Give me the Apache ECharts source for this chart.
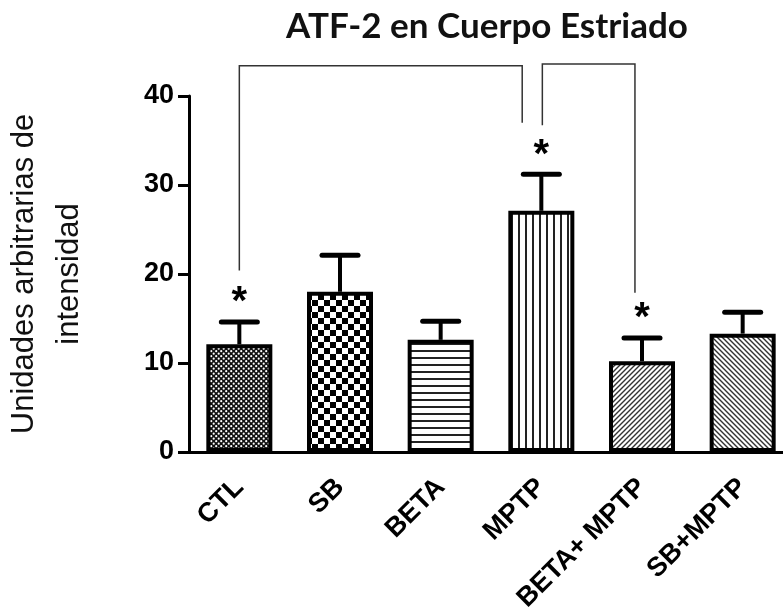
<!DOCTYPE html>
<html>
<head>
<meta charset="utf-8">
<script src="https://cdn.jsdelivr.net/npm/echarts@6/dist/echarts.min.js"></script>
<style>
  html, body { margin: 0; padding: 0; background: #fff; }
  #main { width: 783px; height: 607px; }
</style>
</head>
<body>
<div id="main"></div>
<script>
(function (window, echarts) {
    "use strict";

    // 数据
    var categories = ['CTL', 'SB', 'BETA', 'MPTP', 'BETA+ MPTP', 'SB+MPTP'];
    var means = [12.1, 18.0, 12.6, 27.1, 10.2, 13.3];
    var sems = [2.5, 4.1, 2.1, 4.1, 2.6, 2.4];
    var stars = ['*', '', '', '*', '*', ''];
    var yTicks = [0, 10, 20, 30, 40];
    // 比较括号: [左位置, 右位置, 顶部值, 左底值, 右底值]
    var brackets = [
        [0.0, 2.81, 43.4, 20.4, 37.0],
        [3.01, 3.93, 43.6, 36.7, 17.9]
    ];

    var tile = function (w, h, draw) {
        var c = document.createElement('canvas');
        c.width = w;
        c.height = h;
        var ctx = c.getContext('2d');
        ctx.fillStyle = '#fff';
        ctx.fillRect(0, 0, w, h);
        draw(ctx, w, h);
        return { image: c, repeat: 'repeat' };
    };

    var patterns = [
        tile(5, 5, function (ctx) {
            ctx.fillStyle = '#111';
            ctx.fillRect(0, 0, 5, 5);
            ctx.fillStyle = '#fff';
            ctx.beginPath(); ctx.arc(1.2, 1.2, 1.1, 0, Math.PI * 2); ctx.fill();
            ctx.beginPath(); ctx.arc(3.7, 3.7, 1.1, 0, Math.PI * 2); ctx.fill();
        }),
        tile(12, 12, function (ctx) {
            ctx.fillStyle = '#000';
            ctx.fillRect(0, 0, 6, 6);
            ctx.fillRect(6, 6, 6, 6);
        }),
        tile(1, 7, function (ctx) {
            ctx.fillStyle = '#222';
            ctx.fillRect(0, 0, 1, 2);
        }),
        tile(7, 1, function (ctx) {
            ctx.fillStyle = '#222';
            ctx.fillRect(0, 0, 2, 1);
        }),
        tile(5, 5, function (ctx) {
            ctx.strokeStyle = '#333';
            ctx.lineWidth = 1.4;
            ctx.beginPath();
            ctx.moveTo(-1, 6); ctx.lineTo(6, -1);
            ctx.moveTo(-1, 1); ctx.lineTo(1, -1);
            ctx.moveTo(4, 6); ctx.lineTo(6, 4);
            ctx.stroke();
        }),
        tile(5, 5, function (ctx) {
            ctx.strokeStyle = '#333';
            ctx.lineWidth = 1.4;
            ctx.beginPath();
            ctx.moveTo(-1, -1); ctx.lineTo(6, 6);
            ctx.moveTo(4, -1); ctx.lineTo(6, 1);
            ctx.moveTo(-1, 4); ctx.lineTo(1, 6);
            ctx.stroke();
        })
    ];

    var barData = means.map(function (v, i) {
        return { value: v, itemStyle: { color: patterns[i] } };
    });
    var errData = means.map(function (v, i) {
        return [i, v, sems[i], stars[i]];
    });

    var chart = echarts.init(document.getElementById('main'), null, { renderer: 'canvas' });

    var option = {
        animation: false,
        backgroundColor: '#fff',
        title: {
            text: 'ATF-2 en Cuerpo Estriado',
            left: 482,
            textAlign: 'center',
            top: 4,
            textStyle: {
                fontFamily: 'Lato',
                fontWeight: 'bold',
                fontSize: 35,
                color: '#111'
            }
        },
        grid: { left: 189, right: -10, top: 96, bottom: 155, outerBoundsMode: 'none' },
        xAxis: {
            type: 'category',
            data: categories,
            axisLine: { lineStyle: { color: '#000', width: 3 } },
            axisTick: { alignWithLabel: true, length: 9, lineStyle: { color: '#000', width: 3 } },
            axisLabel: {
                interval: 0,
                rotate: 45,
                margin: 31,
                color: '#000',
                fontFamily: 'Liberation Sans',
                fontWeight: 'bold',
                fontSize: 27
            }
        },
        yAxis: {
            type: 'value',
            min: yTicks[0],
            max: yTicks[yTicks.length - 1],
            interval: yTicks[1] - yTicks[0],
            name: 'Unidades arbitrarias de\nintensidad',
            nameLocation: 'middle',
            nameGap: 97,
            nameTextStyle: {
                fontFamily: 'Liberation Sans',
                fontSize: 31,
                lineHeight: 45,
                color: '#111'
            },
            splitLine: { show: false },
            axisLine: { show: true, lineStyle: { color: '#000', width: 3 } },
            axisTick: { show: true, length: 11, lineStyle: { color: '#000', width: 3 } },
            axisLabel: {
                margin: 15,
                color: '#000',
                fontFamily: 'Liberation Sans',
                fontWeight: 'bold',
                fontSize: 27
            }
        },
        series: [
            {
                type: 'bar',
                data: barData,
                barWidth: 66,
                itemStyle: { borderColor: '#000', borderWidth: 4 },
                z: 2
            },
            {
                type: 'custom',
                data: errData,
                z: 3,
                renderItem: function (params, api) {
                    var i = api.value(0);
                    var base = api.coord([i, api.value(1)]);
                    var top = api.coord([i, api.value(1) + api.value(2)]);
                    var children = [
                        {
                            type: 'line',
                            shape: { x1: base[0], y1: base[1], x2: top[0], y2: top[1] },
                            style: { stroke: '#000', lineWidth: 4 }
                        },
                        {
                            type: 'line',
                            shape: { x1: top[0] - 18, y1: top[1], x2: top[0] + 18, y2: top[1] },
                            style: { stroke: '#000', lineWidth: 5, lineCap: 'round' }
                        }
                    ];
                    var s = api.value(3);
                    if (s) {
                        // 星号字形位于字框上部，向下补偿
                        var sp = api.coord([i, api.value(1) + api.value(2) + 3]);
                        children.push({
                            type: 'text',
                            x: sp[0],
                            y: sp[1] + 8,
                            style: {
                                text: s,
                                fill: '#000',
                                font: 'bold 40px "Liberation Sans"',
                                align: 'center',
                                verticalAlign: 'middle'
                            }
                        });
                    }
                    return { type: 'group', children: children };
                }
            }
        ]
    };

    chart.setOption(option);

    // 比较括号
    var toPx = function (pos, val) {
        var a = chart.convertToPixel({ gridIndex: 0 }, [0, val]);
        var b = chart.convertToPixel({ gridIndex: 0 }, [1, val]);
        return [a[0] + (b[0] - a[0]) * pos, a[1]];
    };
    var lines = brackets.map(function (b) {
        var p1 = toPx(b[0], b[3]);
        var p2 = toPx(b[0], b[2]);
        var p3 = toPx(b[1], b[2]);
        var p4 = toPx(b[1], b[4]);
        return {
            type: 'polyline',
            shape: { points: [p1, p2, p3, p4] },
            style: { stroke: '#333', lineWidth: 1.5, fill: null },
            z: 10
        };
    });
    chart.setOption({ graphic: lines });

})(window, echarts);
</script>
</body>
</html>
